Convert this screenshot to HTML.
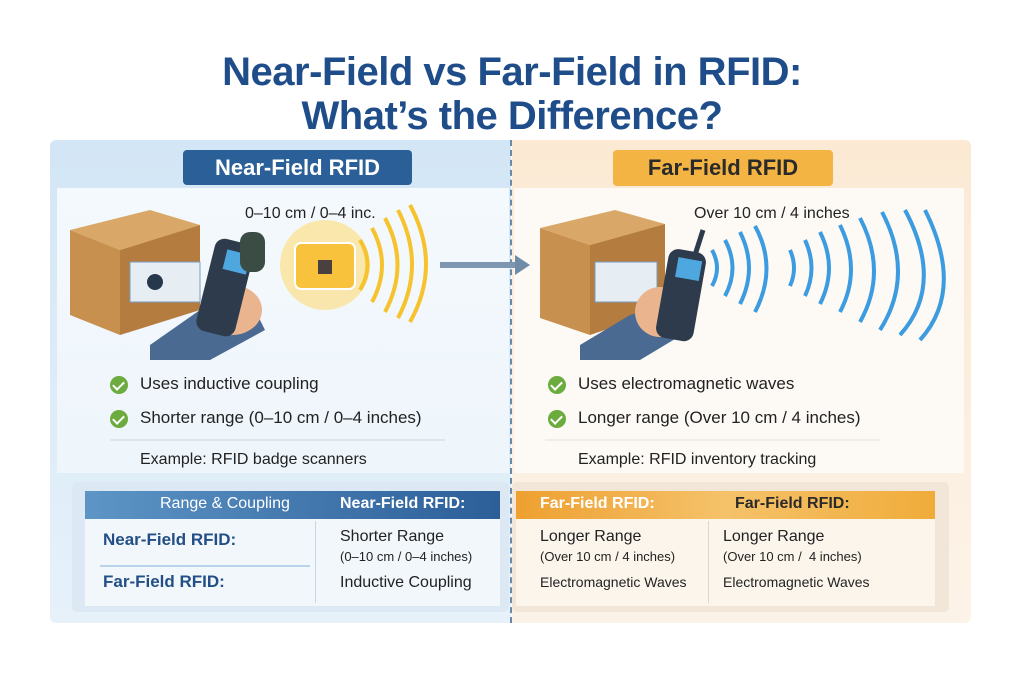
<!DOCTYPE html>
<html><head><meta charset="utf-8"><style>
*{margin:0;padding:0;box-sizing:border-box}
body{width:1024px;height:683px;background:#fff;position:relative;font-family:"Liberation Sans",sans-serif;overflow:hidden}
.a{position:absolute}
.t{position:absolute;left:0;width:1024px;text-align:center;color:#1f4d8a;font-weight:bold;font-size:40px;letter-spacing:-0.5px}
.txt{position:absolute;font-size:17px;color:#222;white-space:nowrap}
.chk{position:absolute;width:18px;height:18px;border-radius:50%;background:#6cab3e}
.chk:after{content:"";position:absolute;left:5px;top:3px;width:5px;height:9px;border:solid #fff;border-width:0 2px 2px 0;transform:rotate(45deg)}
</style></head><body>
<div class="t" style="top:50px">Near-Field vs Far-Field in RFID:</div>
<div class="t" style="top:94px">What’s the Difference?</div>

<div class="a" style="left:50px;top:140px;width:461px;height:483px;background:linear-gradient(180deg,#d3e6f5,#e6f1fa);border-radius:6px 0 0 6px"></div>
<div class="a" style="left:512px;top:140px;width:459px;height:483px;background:linear-gradient(180deg,#fbe9d3,#fcf3e8);border-radius:0 6px 6px 0"></div>
<div class="a" style="left:57px;top:188px;width:452px;height:285px;background:linear-gradient(180deg,#f4f9fd,#eef5fb)"></div>
<div class="a" style="left:514px;top:188px;width:450px;height:285px;background:#fdfaf6"></div>
<div class="a" style="left:510px;top:140px;height:483px;border-left:2px dashed #6a8aa8"></div>

<div class="a" style="left:183px;top:150px;width:229px;height:35px;background:#2b5f98;border-radius:4px;color:#fff;font-size:22px;font-weight:bold;text-align:center;line-height:35px">Near-Field RFID</div>
<div class="a" style="left:613px;top:150px;width:220px;height:36px;background:#f3b443;border-radius:4px;color:#2a2a2a;font-size:22px;font-weight:bold;text-align:center;line-height:36px">Far-Field RFID</div>

<svg class="a" style="left:0;top:0" width="1024" height="683">
<polygon points="70,230 150,210 200,225 120,250" fill="#d9a868"/>
<polygon points="70,230 120,250 120,335 70,315" fill="#c8904f"/>
<polygon points="120,250 200,225 200,310 120,335" fill="#b57c40"/>
<rect x="130" y="262" width="70" height="40" fill="#e6eef4" stroke="#7b9cc0"/>
<circle cx="155" cy="282" r="8" fill="#26384c"/>
<path d="M150,345 L200,310 L250,300 L265,330 L210,360 L150,360Z" fill="#4a6a92"/>
<ellipse cx="232" cy="310" rx="30" ry="25" fill="#eab48f"/>
<rect x="205" y="240" width="40" height="95" rx="10" fill="#2d3b4c" transform="rotate(14 225 288)"/>
<rect x="218" y="250" width="24" height="20" fill="#4fa7e0" transform="rotate(14 225 288)"/>
<rect x="240" y="232" width="25" height="40" rx="10" fill="#3a4c44"/>
<circle cx="325" cy="265" r="45" fill="#ffd55c" opacity="0.5"/>
<rect x="295" y="243" width="60" height="46" rx="6" fill="#f8c23c" stroke="#fff" stroke-width="2"/>
<rect x="318" y="260" width="14" height="14" fill="#4a4040"/>
<g fill="none" stroke="#f6c22d" stroke-width="4">
<path d="M360,240 Q375,265 360,290"/><path d="M372,228 Q392,265 372,302"/><path d="M385,218 Q410,265 385,312"/><path d="M398,210 Q426,265 398,318"/><path d="M410,205 Q442,265 410,322"/></g>
<line x1="440" y1="265" x2="515" y2="265" stroke="#7d97b0" stroke-width="6"/>
<polygon points="515,255 530,265 515,275" fill="#6f8ba7"/>
<polygon points="540,228 615,210 665,224 590,245" fill="#d9a868"/>
<polygon points="540,228 590,245 590,335 540,318" fill="#c8904f"/>
<polygon points="590,245 665,224 665,310 590,335" fill="#b57c40"/>
<rect x="595" y="262" width="62" height="40" fill="#e6eef4" stroke="#7b9cc0"/>
<path d="M580,345 L630,315 L680,300 L690,330 L640,360 L580,360Z" fill="#4a6a92"/>
<ellipse cx="660" cy="312" rx="25" ry="25" fill="#eab48f"/>
<line x1="695" y1="255" x2="703" y2="230" stroke="#2d3b4c" stroke-width="5"/>
<rect x="662" y="250" width="38" height="90" rx="10" fill="#2d3b4c" transform="rotate(10 680 295)"/>
<rect x="672" y="258" width="24" height="20" fill="#4fa7e0" transform="rotate(10 680 295)"/>
<g fill="none" stroke="#3d9be0" stroke-width="4">
<path d="M712,250 Q722,268 712,286"/><path d="M725,240 Q740,268 725,296"/><path d="M740,232 Q758,268 740,304"/><path d="M755,226 Q778,268 755,312"/>
<path d="M790,250 Q798,268 790,286"/><path d="M805,240 Q818,268 805,296"/><path d="M820,232 Q838,268 820,304"/><path d="M840,225 Q862,270 840,312"/><path d="M860,218 Q888,272 860,322"/><path d="M882,212 Q915,275 880,330"/><path d="M905,210 Q945,285 900,335"/><path d="M925,210 Q965,290 920,340"/></g>
<line x1="110" y1="440" x2="445" y2="440" stroke="#c9d6e2"/>
<line x1="545" y1="440" x2="880" y2="440" stroke="#e3ddd5"/>
</svg>
<div class="txt" style="left:245px;top:205px;font-size:16px">0–10 cm / 0–4 inc.</div>
<div class="txt" style="left:694px;top:205px;font-size:16px">Over 10 cm / 4 inches</div>

<div class="chk" style="left:110px;top:376px"></div><div class="txt" style="left:140px;top:374px">Uses inductive coupling</div>
<div class="chk" style="left:110px;top:410px"></div><div class="txt" style="left:140px;top:408px">Shorter range (0–10 cm / 0–4 inches)</div>
<div class="txt" style="left:140px;top:451px;font-size:16px">Example: RFID badge scanners</div>
<div class="chk" style="left:548px;top:376px"></div><div class="txt" style="left:578px;top:374px">Uses electromagnetic waves</div>
<div class="chk" style="left:548px;top:410px"></div><div class="txt" style="left:578px;top:408px">Longer range (Over 10 cm / 4 inches)</div>
<div class="txt" style="left:578px;top:451px;font-size:16px">Example: RFID inventory tracking</div>

<div class="a" style="left:72px;top:482px;width:437px;height:130px;background:#dce9f4;border-radius:5px"></div>
<div class="a" style="left:85px;top:491px;width:415px;height:115px;background:#f2f7fc"></div>
<div class="a" style="left:85px;top:491px;width:415px;height:28px;background:linear-gradient(90deg,#5d95c6,#2c5e98)"></div>
<div class="txt" style="left:160px;top:495px;color:#fff;font-size:16px">Range &amp; Coupling</div>
<div class="txt" style="left:340px;top:495px;color:#fff;font-size:16px;font-weight:bold">Near-Field RFID:</div>
<div class="a" style="left:315px;top:521px;height:82px;border-left:1px solid #c7d6e4"></div>
<div class="a" style="left:100px;top:565px;width:210px;border-top:2px solid #b9d3ea"></div>
<div class="txt" style="left:103px;top:530px;color:#234f86;font-weight:bold;font-size:17px">Near-Field RFID:</div>
<div class="txt" style="left:103px;top:572px;color:#234f86;font-weight:bold;font-size:17px">Far-Field RFID:</div>
<div class="txt" style="left:340px;top:528px;font-size:16px">Shorter Range</div>
<div class="txt" style="left:340px;top:549px;font-size:13px">(0–10 cm / 0–4 inches)</div>
<div class="txt" style="left:340px;top:574px;font-size:16px">Inductive Coupling</div>

<div class="a" style="left:512px;top:482px;width:437px;height:130px;background:#f2e6d8;border-radius:5px"></div>
<div class="a" style="left:516px;top:491px;width:419px;height:115px;background:#fcf5ec"></div>
<div class="a" style="left:516px;top:491px;width:419px;height:28px;background:linear-gradient(90deg,#eea030,#f5c26a,#f0ac3a)"></div>
<div class="txt" style="left:540px;top:495px;color:#fff;font-size:16px;font-weight:bold">Far-Field RFID:</div>
<div class="txt" style="left:735px;top:495px;color:#2a2a2a;font-size:16px;font-weight:bold">Far-Field RFID:</div>
<div class="a" style="left:708px;top:521px;height:82px;border-left:1px solid #e2d6c8"></div>
<div class="txt" style="left:540px;top:528px;font-size:16px">Longer Range</div>
<div class="txt" style="left:540px;top:549px;font-size:13px">(Over 10 cm / 4 inches)</div>
<div class="txt" style="left:540px;top:574px;font-size:14px">Electromagnetic Waves</div>
<div class="txt" style="left:723px;top:528px;font-size:16px">Longer Range</div>
<div class="txt" style="left:723px;top:549px;font-size:13px">(Over 10 cm / &nbsp;4 inches)</div>
<div class="txt" style="left:723px;top:574px;font-size:14px">Electromagnetic Waves</div>
</body></html>
